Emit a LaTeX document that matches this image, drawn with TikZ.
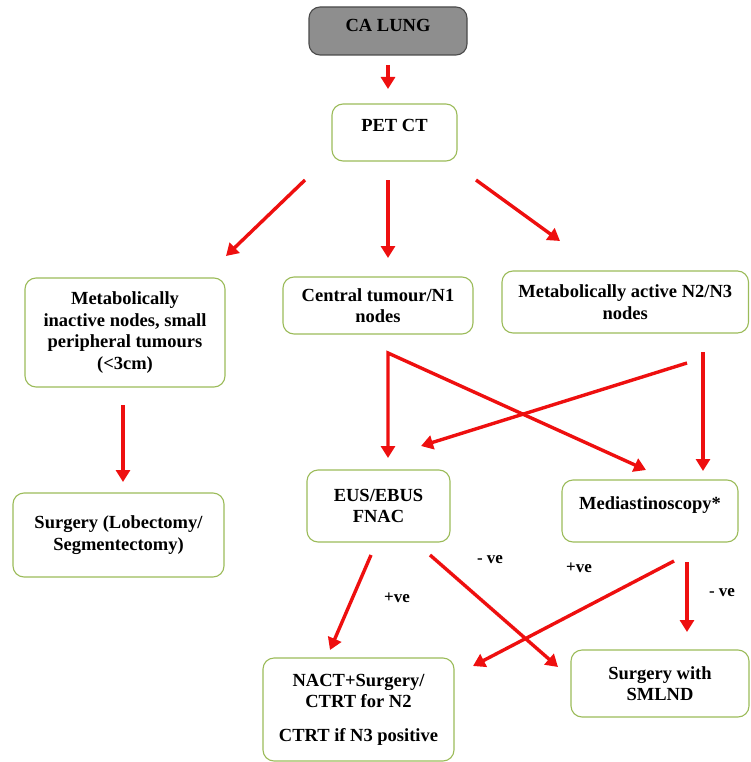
\documentclass[tikz,border=0pt]{standalone}
\usepackage{fontspec}
\setmainfont{Liberation Serif}
\usetikzlibrary{arrows.meta}
\definecolor{boxgreen}{HTML}{9BBB59}
\definecolor{arrred}{HTML}{EE0F0F}
\definecolor{grayfill}{HTML}{8E8E8E}
\definecolor{grayline}{HTML}{4A4A4A}
\begin{document}
\begin{tikzpicture}[x=1pt,y=-1pt,
  box/.style={draw=boxgreen, line width=1.1pt, rounded corners=11pt, align=center,
    font=\bfseries\fontsize{18.5}{21.5}\selectfont, inner sep=0pt},
  arr/.style={draw=arrred, line width=3.4pt, -{Triangle[length=12pt,width=14pt]}},
  lbl/.style={font=\bfseries\fontsize{17}{20}\selectfont, inner sep=0pt}]
\useasboundingbox (0,0) rectangle (750,762);

% boxes
\node[box, fill=grayfill, draw=grayline, minimum width=158pt, minimum height=48pt,
  text depth=11pt] (calung) at (388,31) {CA LUNG};
\node[box, minimum width=125pt, minimum height=57pt, text depth=14pt] (petct) at (394.5,132.5) {PET CT};
\node[box, minimum width=200pt, minimum height=109pt] (inactive) at (125,332.5)
  {Metabolically\\inactive nodes, small\\peripheral tumours\\(<3cm)};
\node[box, minimum width=190pt, minimum height=57pt] (central) at (378,305.5) {Central tumour/N1\\nodes};
\node[box, minimum width=246.5pt, minimum height=62pt] (active) at (625.25,302) {Metabolically active N2/N3\\nodes};
\node[box, minimum width=211pt, minimum height=84pt] (surgery) at (118.5,535) {Surgery (Lobectomy/\\Segmentectomy)};
\node[box, minimum width=143pt, minimum height=72pt] (eus) at (378.5,506) {EUS/EBUS\\FNAC};
\node[box, minimum width=176pt, minimum height=62pt, text depth=16pt] (medi) at (650,511) {Mediastinoscopy*};
\node[box, minimum width=191pt, minimum height=103pt] (nact) at (358.5,709.5)
  {NACT+Surgery/\\CTRT for N2\\[12pt]CTRT if N3 positive};
\node[box, minimum width=178pt, minimum height=67pt] (smlnd) at (660,683.5) {Surgery with\\SMLND};

% arrow end points
\coordinate (a1s) at (388,65);   \coordinate (a1e) at (388,89);
\coordinate (a2s) at (305,180);  \coordinate (a2e) at (226,256);
\coordinate (a3s) at (388,180);  \coordinate (a3e) at (388,258);
\coordinate (a4s) at (476,180);  \coordinate (a4e) at (560,241);
\coordinate (a5s) at (123,405);  \coordinate (a5e) at (123,482);
\coordinate (apex) at (388,353);
\coordinate (a6e) at (388,458);  \coordinate (a7e) at (646,470);
\coordinate (a8s) at (687,363);  \coordinate (a8e) at (421,446);
\coordinate (a9s) at (703,352);  \coordinate (a9e) at (703,471);
\coordinate (b1s) at (371,555);  \coordinate (b1e) at (330,650);
\coordinate (b2s) at (430,555);  \coordinate (b2e) at (558,667);
\coordinate (b3s) at (674,561);  \coordinate (b3e) at (473,666);
\coordinate (b4s) at (687,562);  \coordinate (b4e) at (687,632);

% connectors
\draw[arr] (a1s) -- (a1e);
\draw[arr] (a2s) -- (a2e);
\draw[arr] (a3s) -- (a3e);
\draw[arr] (a4s) -- (a4e);
\draw[arr] (a5s) -- (a5e);
\draw[arr, {Triangle[length=12pt,width=14pt]}-{Triangle[length=12pt,width=14pt]}] (a6e) -- (apex) -- (a7e);
\draw[arr] (a8s) -- (a8e);
\draw[arr] (a9s) -- (a9e);
\draw[arr] (b1s) -- (b1e);
\draw[arr] (b2s) -- (b2e);
\draw[arr] (b3s) -- (b3e);
\draw[arr] (b4s) -- (b4e);

% labels
\node[lbl] (l1) at (490,560) {- ve};
\node[lbl] (l2) at (579,568) {+ve};
\node[lbl] (l3) at (397,598) {+ve};
\node[lbl] (l4) at (722,593) {- ve};
\end{tikzpicture}
\end{document}
